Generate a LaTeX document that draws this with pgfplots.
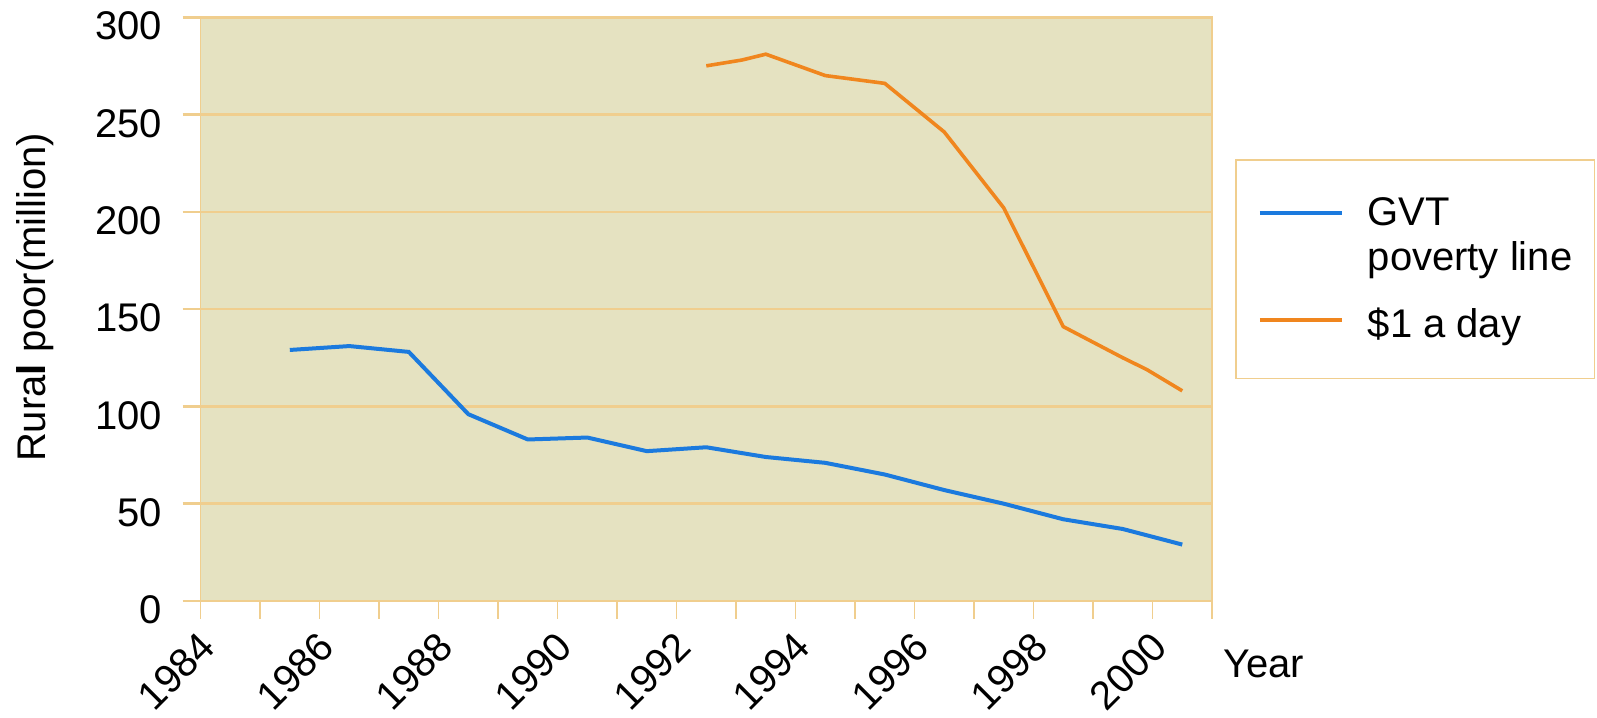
\documentclass[border=0pt]{standalone}
\usepackage{fontspec}
\setmainfont{Liberation Sans}
\usepackage{pgfplots}
\pgfplotsset{compat=1.18}
\definecolor{bgk}{RGB}{229,226,193}
\definecolor{gridc}{RGB}{240,206,142}
\definecolor{bluel}{RGB}{27,122,222}
\definecolor{orangel}{RGB}{240,134,30}
\pgfplotsset{
  bluelegend/.style={legend image code/.code={\draw[##1] (0pt,11.6pt) -- (41pt,11.6pt);}},
  orangelegend/.style={legend image code/.code={\draw[##1] (0pt,2pt) -- (41pt,2pt);}},
}
\begin{document}
\begin{tikzpicture}
\begin{axis}[
  scale only axis, width=505.7pt, height=291.9pt,
  xmin=1984, xmax=2001, ymin=0, ymax=300,
  axis background/.style={fill=bgk},
  axis line style={gridc, line width=0.8pt},
  ymajorgrids, major grid style={gridc, line width=1.3pt},
  ytick={0,50,...,300},
  xtick={1984,1986,...,2000},
  minor xtick={1985,1987,...,2001},
  tick align=outside, tick pos=left,
  major tick length=9pt, minor tick length=9pt,
  xtick style={gridc, line width=0.6pt},
  every minor tick/.append style={gridc, line width=0.6pt},
  ytick style={gridc, line width=1.3pt},
  font=\fontsize{20}{24}\selectfont,
  /pgf/number format/assume math mode=true,
  /pgf/number format/1000 sep={},
  xticklabel shift=5pt,
  yticklabel shift=10pt,
  xticklabel style={xshift=-1.5pt, rotate=45, anchor=north east, inner sep=0pt},
  yticklabel style={anchor=east, inner sep=0pt, yshift=-4.5pt},
  xlabel={Year},
  xlabel style={at={(axis description cs:1.0109,-0.1079)}, anchor=west, inner sep=0pt},
  ylabel={Rura\textbf{l} poor(million)},
  ylabel style={at={(axis description cs:-0.1631,0.52)}, anchor=center, inner sep=0pt},
  legend style={at={(axis description cs:1.0227,0.757)}, anchor=north west,
    draw=gridc, line width=0.8pt, fill=white,
    font=\fontsize{20}{22.5}\selectfont,
    inner xsep=11pt, inner ysep=19pt, column sep=12pt, row sep=17pt,
    nodes={inner sep=0pt, align=left}},
  legend cell align=left,
]
\addplot[bluel, line width=2pt, bluelegend]
  coordinates {
  (1985.5,129) (1986.5,131) (1987.5,128) (1988.5,96) (1989.5,83)
  (1990.5,84) (1991.5,77) (1992.5,79) (1993.5,74) (1994.5,71)
  (1995.5,65) (1996.5,57) (1997.5,50) (1998.5,42) (1999.5,37) (2000.5,29)
};
\addlegendentry{GVT\\poverty line}
\addplot[orangel, line width=1.8pt, orangelegend]
  coordinates {
  (1992.5,275) (1993.1,278) (1993.5,281) (1994.5,270) (1995.5,266)
  (1996.5,241) (1997.5,202) (1998.5,141) (1999.5,125) (1999.9,119) (2000.5,108)
};
\addlegendentry{\$1 a day}
\end{axis}
\pgfresetboundingbox
\path[use as bounding box] (-100.3pt,-58.5pt) rectangle (698.2pt,300.5pt);
\end{tikzpicture}
\end{document}
